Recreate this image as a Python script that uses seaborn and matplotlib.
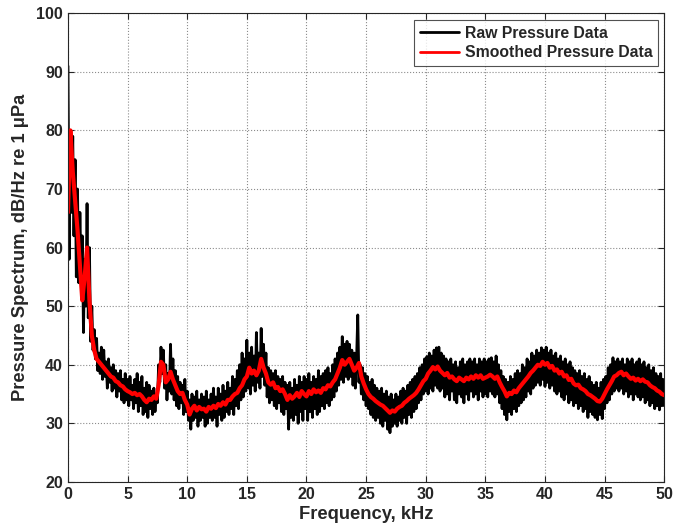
import numpy as np
import pandas as pd
import matplotlib
matplotlib.use('Agg')
import matplotlib.pyplot as plt
import seaborn as sns

# raw trace: 0.1 kHz steps, smoothed trace: 0.2 kHz steps
raw_khz = np.round(np.arange(0, 50.01, 0.1), 2)
smooth_khz = np.round(np.arange(0, 50.01, 0.2), 2)

# raw pressure spectrum, dB/Hz re 1 uPa, one row per 5 kHz
raw_db = [
    91, 58, 80, 66, 79, 62, 75, 55, 70, 54, 66, 56, 62, 45.5, 58, 50, 67.5, 48, 60, 44,
    50, 42.5, 46, 41, 44.5, 39, 42, 38.5, 43, 37.5, 42.5, 38, 40.5, 36, 41, 37, 39.5, 35.5, 40, 36,
    39, 34.5, 38.5, 35.5, 39, 34, 37.5, 33.5, 38.5, 34,
    37.5, 33, 38, 34, 36.5, 32.5, 37.5, 33.5, 38.5, 32, 37, 33, 38, 31.5, 36, 32, 37, 31, 36.5, 32.5,
    35.5, 31.5, 36, 32, 35, 33.5, 40, 37, 43, 38.5, 42.5, 36, 40, 34, 38.5, 35.5, 43.5, 35, 41, 34,
    39, 33, 38, 32.5, 37, 33.5, 36.5, 31.5, 37.5, 32,
    35.5, 30.5, 34, 29, 35, 30.5, 34.5, 31, 35.5, 29.5, 34, 30.5, 35, 31, 34.5, 29.5, 35.5, 30, 34, 31,
    35, 30.5, 36, 31, 34.5, 29.5, 36, 31.5, 35, 30.5, 36.5, 31, 35.5, 32, 37, 31.5, 36, 32.5, 38, 31.5,
    37.5, 33, 39, 32.5, 40, 34, 42, 34.5, 41, 35.5,
    44.2, 36, 42, 35, 43, 36.5, 41.5, 35.5, 45.5, 37, 42, 36, 46.2, 38, 43.5, 36.5, 42, 34.5, 39.5, 33.5,
    39, 34, 38.5, 33, 39, 32.5, 38, 33.5, 37.5, 32, 38, 31.5, 37, 32.5, 36.5, 29, 37, 31, 36, 30.5,
    37.5, 31.5, 36.5, 30, 38, 32, 37, 30.5, 38, 32.5,
    37.5, 30.5, 38.5, 32, 37, 31, 38, 32.5, 37.5, 31.5, 39, 32, 38, 33, 38.5, 32.5, 39, 33.5, 39.5, 33,
    38.5, 34, 40, 34.5, 41, 35.5, 42, 36.5, 43, 37.5, 44.8, 37, 43.5, 38, 44, 37.5, 43.5, 38, 42.5, 36.5,
    42, 36, 41, 48.5, 37, 40, 35, 39.5, 34, 38.5,
    33, 38, 32.5, 37, 31.5, 37.5, 31, 36.5, 30.5, 36, 31, 35.5, 30, 36, 29.5, 35, 30.5, 35.5, 29, 34.5,
    28.4, 35, 29.5, 34, 30, 35, 29.5, 34.5, 30.5, 35.5, 30, 36, 31, 35.5, 30, 36.5, 31.5, 37, 31, 37.5,
    32, 38, 32.5, 38.5, 33.5, 39.5, 34, 40, 35, 41,
    35.5, 41.4, 35, 42, 36, 41.5, 35.5, 42.5, 36.5, 42.9, 36, 43, 35.5, 42, 36, 41.5, 34.5, 41, 35, 40.5,
    34, 41, 35.5, 40, 34, 40.5, 33.5, 39.5, 35, 40.5, 34.5, 41, 33.5, 40, 35, 40.5, 34, 41, 35.5, 40.5,
    34.5, 41, 35, 40, 34, 41, 35.5, 40.5, 34.5, 41,
    35, 40.5, 34.5, 41, 35.5, 41.2, 35, 40.5, 34.5, 41.5, 35, 40, 33.5, 39, 32.5, 38, 31.5, 37.5, 30.6, 37,
    32, 38, 31.5, 37.5, 32.5, 38.5, 32, 39, 33, 38.5, 33.5, 40, 34, 39.5, 34.5, 41, 35.5, 40.5, 35, 42,
    36, 41.5, 36.5, 42.5, 37, 42, 36.5, 42.9, 37.5, 42.5,
    36.3, 43, 37, 42, 36, 42.5, 36.5, 41.5, 35.5, 42, 35, 41, 35.5, 41.5, 34.5, 40.5, 34, 41, 35, 40,
    33.5, 40.5, 34, 39.5, 33, 39, 33.5, 38.5, 32.5, 39, 33, 38, 32, 38.5, 32.5, 37.5, 31, 38, 32, 37,
    31.5, 36.5, 31, 37, 30.6, 36, 31.5, 37, 30.8, 37.5,
    32.5, 38, 33.5, 39.5, 34, 40, 35, 41.2, 35.5, 40.5, 36, 41, 35.5, 40.5, 36, 41, 35, 40, 35.5, 41,
    34.5, 40.5, 35, 41, 34, 40, 35, 40.5, 34.5, 41, 34, 40, 34.5, 40.5, 33.5, 39.5, 34, 40, 33, 39,
    33.5, 39.5, 32.5, 38.5, 33, 38, 32.3, 38.5, 33, 37.5,
    33,
]

# smoothed pressure spectrum
smooth_db = [
    66, 80, 73, 68, 63, 57, 51, 55, 60, 51, 45, 42.5, 41, 40.5, 40, 39.5, 39, 38.5, 38, 37.8, 37.2, 37, 36.5, 36.3, 35.8,
    35.5, 35.3, 35, 35.2, 34.8, 35, 34.6, 34, 33.6, 34.2, 34, 34.6, 34.2, 36.5, 40.5, 40, 37, 37.5, 38.8, 37.5, 36.5, 35.5, 35, 35.2, 34,
    33.2, 31.5, 32.5, 33, 32.2, 32.8, 32.4, 32.5, 32, 32.8, 32.5, 33, 32.6, 33.3, 33, 33.6, 33.2, 34, 34, 34.6, 35, 35.2, 36, 36.5, 37.5,
    38, 39.5, 38.5, 39, 38.2, 39, 41, 39.5, 38.5, 37, 36.6, 37, 36, 36.2, 35.5, 35.8, 35, 34, 34.8, 34.2, 34.6, 35.2, 34.5, 35.5, 35,
    34.6, 35.5, 35, 35.8, 35.3, 35.6, 35.2, 36, 35.8, 36.5, 36.3, 37, 37.5, 38.5, 39.5, 40.8, 40, 40.5, 41, 40, 39, 39.5, 40.3, 38, 36.8,
    35.8, 35, 34.5, 34.2, 33.8, 33.5, 33.2, 33, 32.6, 32.2, 31.8, 32.2, 32, 32.5, 32.8, 33, 33.5, 33.8, 34.2, 34.5, 34.8, 35.2, 35.8, 36.5, 37.2,
    37.6, 38.5, 39, 39.6, 39.2, 39.7, 39, 38.6, 38.2, 38.6, 37.8, 38, 37.5, 37.2, 37.8, 37.5, 37.2, 37.8, 37.5, 38, 37.6, 38.2, 37.8, 38.2, 37.6,
    37.8, 38, 38.3, 38, 37.6, 38, 37, 36.2, 35.5, 34.6, 35.2, 35, 35.6, 35.3, 36, 36.5, 37, 37.5, 38, 38.6, 39, 39.5, 40, 39.8, 40.5,
    40, 40.3, 39.5, 39.8, 39, 39.2, 38.5, 38.8, 38, 38.2, 37.4, 37.6, 36.8, 36.5, 36.6, 36, 35.8, 35.5, 35, 34.8, 34.5, 34.2, 33.8, 33.7, 34.2,
    35, 35.8, 36.5, 37.2, 38, 38.2, 38.6, 38.8, 38.2, 38.5, 38, 37.6, 37.8, 37.3, 37.6, 37.2, 37.5, 37.1, 37, 36.5, 36.2, 36, 35.6, 35.4, 35,
    34.8,
]

x_ticks = list(range(0, 51, 5))
y_ticks = list(range(20, 101, 10))

raw_df = pd.DataFrame({'freq': raw_khz, 'level': raw_db})
smooth_df = pd.DataFrame({'freq': smooth_khz, 'level': smooth_db})

sns.set_style('ticks')
plt.rcParams['font.family'] = ['Liberation Sans', 'DejaVu Sans']
plt.rcParams['font.weight'] = 'bold'

fig = plt.figure(figsize=(6.73, 5.29), dpi=100)
ax = fig.add_axes([0.101, 0.089, 0.886, 0.886])

sns.lineplot(data=raw_df, x='freq', y='level', color='black', linewidth=2.0,
             label='Raw Pressure Data', ax=ax, estimator=None)
sns.lineplot(data=smooth_df, x='freq', y='level', color='red', linewidth=3.0,
             label='Smoothed Pressure Data', ax=ax, estimator=None)

ax.set_xlim(0, 50)
ax.set_ylim(20, 100)
ax.set_xticks(x_ticks)
ax.set_yticks(y_ticks)
ax.grid(True, linestyle=':', color='#8c8c8c', linewidth=0.8)
ax.set_axisbelow(True)
for s in ax.spines.values():
    s.set_color('#262626')
    s.set_linewidth(0.8)
ax.tick_params(direction='in', length=4, top=True, right=True,
               labelsize=11.5, width=0.8)
for t in ax.get_xticklabels() + ax.get_yticklabels():
    t.set_fontweight('bold')

ax.set_xlabel('Frequency, kHz', fontsize=13.2, fontweight='bold', labelpad=3)
ax.set_ylabel('Pressure Spectrum, dB/Hz re 1 \u03bcPa', fontsize=13.2,
              fontweight='bold', labelpad=5)

leg = ax.legend(loc='upper right', fontsize=11.3, frameon=True, fancybox=False,
                borderpad=0.35, handlelength=2.5, handletextpad=0.4,
                labelspacing=0.3, borderaxespad=0,
                bbox_to_anchor=(0.990, 0.985))
leg.get_frame().set_edgecolor('#262626')
leg.get_frame().set_linewidth(0.8)
for t in leg.get_texts():
    t.set_fontweight('bold')
for h in leg.get_lines():
    h.set_linewidth(2.0)

fig.savefig('out.png', dpi=100)
